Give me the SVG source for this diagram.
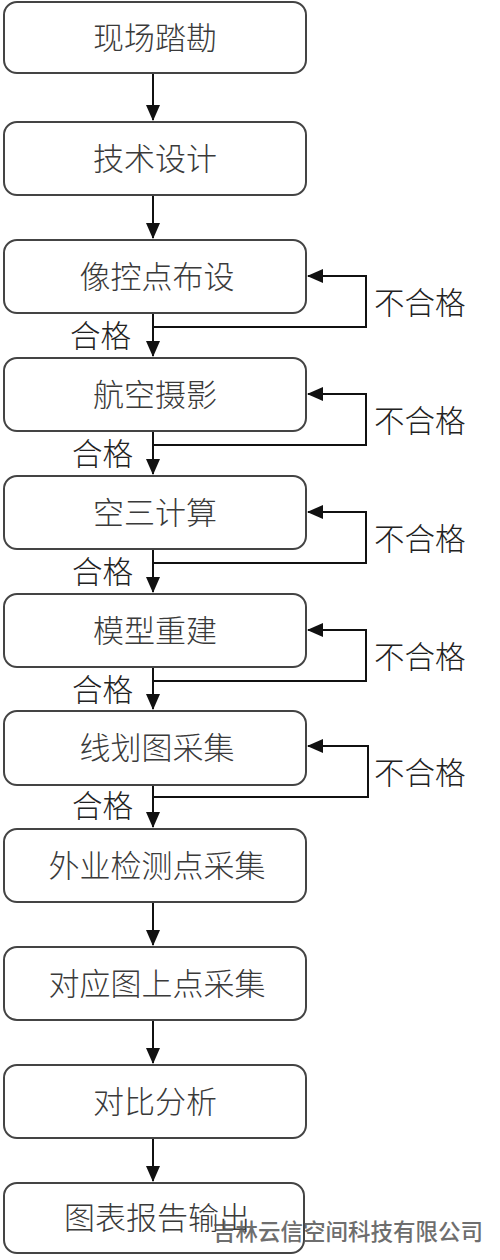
<svg xmlns="http://www.w3.org/2000/svg" width="500" height="1260" viewBox="0 0 500 1260">
<style>
.box{fill:#fff;stroke:#444;stroke-width:2}
.lbl{font-family:"Noto Sans CJK SC","Noto Sans",sans-serif;font-size:31px;font-weight:300;fill:#3a3a3a;text-anchor:middle}
.side{font-family:"Noto Sans CJK SC","Noto Sans",sans-serif;font-size:30.5px;font-weight:300;fill:#222}
.ln{fill:none;stroke:#111;stroke-width:2}
.wm{font-family:"Noto Sans CJK SC",sans-serif;font-size:22.5px;font-weight:500;fill:#555}
</style>
<defs>
<marker id="ah" markerWidth="16" markerHeight="14" refX="15" refY="7" orient="auto" markerUnits="userSpaceOnUse">
<path d="M0,0 L16,7 L0,14 Z" fill="#111"/>
</marker>
</defs>
<rect width="500" height="1260" fill="#fff"/>
<g id="connectors">
<path class="ln" d="M153,73 V120" marker-end="url(#ah)"/>
<path class="ln" d="M153,195 V238" marker-end="url(#ah)"/>
<path class="ln" d="M153,313 V356" marker-end="url(#ah)"/>
<path class="ln" d="M153,431 V474" marker-end="url(#ah)"/>
<path class="ln" d="M153,549 V592" marker-end="url(#ah)"/>
<path class="ln" d="M153,667 V709" marker-end="url(#ah)"/>
<path class="ln" d="M153,785 V827" marker-end="url(#ah)"/>
<path class="ln" d="M153,902 V945" marker-end="url(#ah)"/>
<path class="ln" d="M153,1020 V1063" marker-end="url(#ah)"/>
<path class="ln" d="M153,1138 V1181" marker-end="url(#ah)"/>
<path class="ln" d="M153,327 H366 V276 H308" marker-end="url(#ah)"/>
<path class="ln" d="M153,445 H366 V394 H308" marker-end="url(#ah)"/>
<path class="ln" d="M153,563 H366 V512 H308" marker-end="url(#ah)"/>
<path class="ln" d="M153,681 H366 V630 H308" marker-end="url(#ah)"/>
<path class="ln" d="M153,797 H368 V746 H308" marker-end="url(#ah)"/>
<text class="side" x="374" y="314">不合格</text>
<text class="side" x="374" y="432">不合格</text>
<text class="side" x="374" y="550">不合格</text>
<text class="side" x="374" y="668">不合格</text>
<text class="side" x="374" y="784">不合格</text>
<text class="side" x="70" y="347">合格</text>
<text class="side" x="72" y="465">合格</text>
<text class="side" x="72" y="583">合格</text>
<text class="side" x="72" y="701">合格</text>
<text class="side" x="72" y="817">合格</text>
</g>
<g id="n1"><rect class="box" x="4" y="2" width="302" height="71" rx="13"/><text class="lbl" x="155" y="49">现场踏勘</text></g>
<g id="n2"><rect class="box" x="4" y="122" width="302" height="73" rx="13"/><text class="lbl" x="155" y="170">技术设计</text></g>
<g id="n3"><rect class="box" x="4" y="240" width="302" height="73" rx="13"/><text class="lbl" x="157" y="288">像控点布设</text></g>
<g id="n4"><rect class="box" x="4" y="358" width="302" height="73" rx="13"/><text class="lbl" x="155" y="406">航空摄影</text></g>
<g id="n5"><rect class="box" x="4" y="476" width="302" height="73" rx="13"/><text class="lbl" x="155" y="524">空三计算</text></g>
<g id="n6"><rect class="box" x="4" y="594" width="302" height="73" rx="13"/><text class="lbl" x="155" y="642">模型重建</text></g>
<g id="n7"><rect class="box" x="4" y="711" width="302" height="74" rx="13"/><text class="lbl" x="157" y="759">线划图采集</text></g>
<g id="n8"><rect class="box" x="4" y="829" width="302" height="73" rx="13"/><text class="lbl" x="157" y="877">外业检测点采集</text></g>
<g id="n9"><rect class="box" x="4" y="947" width="302" height="73" rx="13"/><text class="lbl" x="157" y="995">对应图上点采集</text></g>
<g id="n10"><rect class="box" x="4" y="1065" width="302" height="73" rx="13"/><text class="lbl" x="155" y="1113">对比分析</text></g>
<g id="n11"><rect class="box" x="4" y="1183" width="300" height="70" rx="13"/><text class="lbl" x="157" y="1229">图表报告输出</text></g>
<text class="wm" x="213" y="1240" opacity="0.85">吉林云信空间科技有限公司</text>
</svg>
